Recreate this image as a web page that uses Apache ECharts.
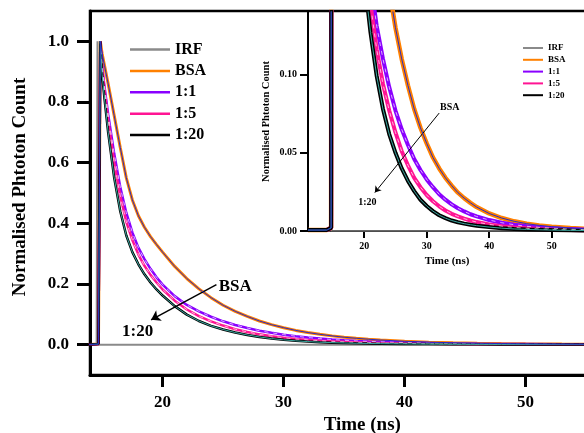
<!DOCTYPE html>
<html>
<head>
<meta charset="utf-8">
<script src="https://cdn.jsdelivr.net/npm/echarts@6/dist/echarts.min.js"></script>
<style>
html,body{margin:0;padding:0;background:#fff;}
#chart{width:584px;height:433px;}
</style>
</head>
<body>
<div id="chart"></div>
<script>
// ---- data ----
const timeNs = [11, 14, 14.7, 14.85, 15, 15.2, 15.5, 16, 16.5, 17, 17.5, 18, 18.5, 19, 19.5, 20,
  21, 22, 23, 24, 25, 26, 27, 28, 29, 30, 31, 32, 33, 34, 35, 36, 37, 38,
  40, 42, 44, 46, 48, 50, 53, 56, 59];
const bsa = [0.0006, 0.0006, 0.002, 1.0, 0.96, 0.92, 0.86, 0.755, 0.65, 0.55, 0.477, 0.425, 0.387, 0.356, 0.33, 0.305,
  0.258, 0.218, 0.184, 0.155, 0.13, 0.11, 0.093, 0.078, 0.066, 0.056, 0.047, 0.04, 0.034, 0.029, 0.0245, 0.021, 0.018, 0.0153,
  0.0112, 0.0083, 0.0062, 0.0047, 0.0036, 0.0028, 0.0019, 0.0013, 0.0009];
const ratio1to1 = [0.0006, 0.0006, 0.002, 1.0, 0.92, 0.85, 0.76, 0.63, 0.52, 0.435, 0.37, 0.32, 0.282, 0.25, 0.222, 0.198,
  0.16, 0.131, 0.11, 0.092, 0.077, 0.065, 0.055, 0.046, 0.039, 0.033, 0.028, 0.0235, 0.02, 0.017, 0.0145, 0.0125, 0.0107, 0.0093,
  0.007, 0.0053, 0.004, 0.003, 0.0023, 0.0018, 0.0012, 0.0008, 0.0006];
const ratio1to5 = [0.0006, 0.0006, 0.002, 1.0, 0.91, 0.84, 0.74, 0.6, 0.49, 0.405, 0.345, 0.297, 0.26, 0.23, 0.205, 0.182,
  0.145, 0.116, 0.094, 0.077, 0.063, 0.051, 0.042, 0.034, 0.028, 0.023, 0.019, 0.0158, 0.0131, 0.011, 0.0093, 0.0079, 0.0067, 0.0057,
  0.0042, 0.0031, 0.0023, 0.0017, 0.0013, 0.001, 0.0007, 0.0005, 0.0004];
const ratio1to20 = [0.0006, 0.0006, 0.002, 1.0, 0.89, 0.81, 0.7, 0.55, 0.44, 0.36, 0.305, 0.265, 0.232, 0.205, 0.182, 0.162,
  0.127, 0.099, 0.078, 0.062, 0.05, 0.04, 0.032, 0.0255, 0.02, 0.016, 0.0127, 0.0101, 0.0082, 0.0067, 0.0056, 0.0047, 0.004, 0.0034,
  0.0025, 0.0018, 0.0013, 0.001, 0.0008, 0.0006, 0.0004, 0.0003, 0.0002];
const irfTime = [11, 14.55, 14.62, 14.7, 59];
const irfValues = [0, 0, 1.0, 0, 0];

const seriesNames = ['IRF', 'BSA', '1:1', '1:5', '1:20'];
const mainXTicks = [20, 30, 40, 50];
const mainYTicks = [0, 0.2, 0.4, 0.6, 0.8, 1.0];
const insetXTicks = [20, 30, 40, 50];
const insetYTicks = [0, 0.05, 0.1];

// ---- build ----
const pairs = (xs, ys) => xs.map((x, i) => [x, ys[i]]);
const FONT = '"Liberation Serif","Times New Roman",serif';
const colors = { 'IRF': '#8a8a8a', 'BSA': '#ff8000', '1:1': '#8a00ff', '1:5': '#ff1493', '1:20': '#000000' };
const dataMap = { 'BSA': bsa, '1:1': ratio1to1, '1:5': ratio1to5, '1:20': ratio1to20 };

function buildSeries(idx, w) {
  const out = [];
  out.push({
    name: 'IRF', type: 'line', xAxisIndex: idx, yAxisIndex: idx,
    data: pairs(irfTime, irfValues), showSymbol: false, color: colors['IRF'],
    lineStyle: { width: idx === 0 ? 2 : 1.5, color: colors['IRF'] }, z: 2
  });
  ['BSA', '1:1', '1:5', '1:20'].forEach(n => {
    out.push({
      name: n, type: 'line', xAxisIndex: idx, yAxisIndex: idx,
      data: pairs(timeNs, dataMap[n]), showSymbol: false, color: colors[n],
      lineStyle: { width: n === 'BSA' ? w + 0.5 : w, color: colors[n] }, z: 3
    });
  });
  ['1:1', '1:5'].forEach(n => {
    out.push({
      name: n + ' fit', type: 'line', xAxisIndex: idx, yAxisIndex: idx,
      data: pairs(timeNs, dataMap[n]).slice(3), showSymbol: false, color: '#ffffff',
      lineStyle: { width: 0.8, color: 'rgba(255,255,255,0.85)', type: [4, 5] }, z: 4
    });
  });
  out.push({
    name: '1:20 fit', type: 'line', xAxisIndex: idx, yAxisIndex: idx,
    data: pairs(timeNs, ratio1to20), showSymbol: false, color: '#3aa7a0',
    lineStyle: { width: 1, color: '#3aa7a0' }, z: 4
  });
  out.push({
    name: 'BSA fit', type: 'line', xAxisIndex: idx, yAxisIndex: idx,
    data: pairs(timeNs, bsa), showSymbol: false, color: '#2b2bc0',
    lineStyle: { width: 1, color: '#2b2bc0' }, z: 5
  });
  return out;
}

const mainSeries = buildSeries(0, 2.5);
const insetSeries = buildSeries(1, 4);

// annotations (arrows + labels)
mainSeries[1].markLine = {
  silent: true, symbol: ['none', 'arrow'], symbolSize: 9,
  label: { show: false },
  lineStyle: { color: '#000', width: 1.5, type: 'solid' },
  data: [[{ coord: [24.45, 0.198] }, { coord: [19.05, 0.082] }]]
};
mainSeries[1].markPoint = {
  silent: true, symbol: 'rect', symbolSize: 1, itemStyle: { color: 'rgba(0,0,0,0)' },
  label: { show: true, position: 'inside', formatter: p => p.name, color: '#000',
    fontFamily: FONT, fontWeight: 'bold', fontSize: 17 },
  data: [{ name: 'BSA', coord: [26.0, 0.191] }, { name: '1:20', coord: [17.93, 0.044] }]
};
insetSeries[1].markLine = {
  silent: true, symbol: ['none', 'arrow'], symbolSize: 6,
  label: { show: false },
  lineStyle: { color: '#000', width: 1, type: 'solid' },
  data: [[{ coord: [32.0, 0.0754] }, { coord: [21.7, 0.0246] }]]
};
insetSeries[1].markPoint = {
  silent: true, symbol: 'rect', symbolSize: 1, itemStyle: { color: 'rgba(0,0,0,0)' },
  label: { show: true, position: 'inside', formatter: p => p.name, color: '#000',
    fontFamily: FONT, fontWeight: 'bold', fontSize: 10 },
  data: [{ name: 'BSA', coord: [33.7, 0.0792] }, { name: '1:20', coord: [20.5, 0.018] }]
};

const txt = (size) => ({ fontFamily: FONT, fontWeight: 'bold', fontSize: size, color: '#000' });

const option = {
  animation: false,
  backgroundColor: '#fff',
  grid: [
    { left: 90, top: 11, width: 544.5, height: 364, show: true, borderColor: '#000', borderWidth: 2.5,
      backgroundColor: 'transparent', containLabel: false, outerBoundsMode: 'none' },
    { left: 308, top: 12, width: 278, height: 219, show: false, containLabel: false, outerBoundsMode: 'none' }
  ],
  legend: [
    {
      data: seriesNames, orient: 'vertical', left: 125, top: 36,
      icon: 'rect', itemWidth: 40, itemHeight: 2.5, itemGap: 4.4,
      textStyle: Object.assign(txt(16), { lineHeight: 17 }),
      selectedMode: false
    },
    {
      data: seriesNames, orient: 'vertical', left: 518, top: 37.5,
      icon: 'rect', itemWidth: 20, itemHeight: 2, itemGap: 0.8,
      textStyle: Object.assign(txt(9), { lineHeight: 11 }),
      selectedMode: false
    }
  ],
  xAxis: [
    {
      type: 'value', gridIndex: 0, min: 14, max: 59,
      name: 'Time (ns)', nameLocation: 'middle', nameGap: 31, nameTextStyle: txt(19),
      axisLine: { onZero: false, lineStyle: { color: '#000', width: 3 } },
      axisTick: { show: true, length: 12, inside: false, lineStyle: { color: '#000', width: 3 }, customValues: mainXTicks },
      axisLabel: Object.assign(txt(17), { margin: 19, customValues: mainXTicks }),
      splitLine: { show: false }
    },
    {
      type: 'value', gridIndex: 1, min: 11, max: 55.5,
      name: 'Time (ns)', nameLocation: 'middle', nameGap: 25, nameTextStyle: txt(11),
      axisLine: { onZero: false, lineStyle: { color: '#000', width: 2 } },
      axisTick: { show: true, length: 7, lineStyle: { color: '#000', width: 2 }, customValues: insetXTicks },
      axisLabel: Object.assign(txt(10), { margin: 10, customValues: insetXTicks }),
      splitLine: { show: false }
    }
  ],
  yAxis: [
    {
      type: 'value', gridIndex: 0, min: -0.1, max: 1.1,
      name: 'Normalised Phtoton Count', nameLocation: 'middle', nameGap: 60,
      nameTextStyle: Object.assign(txt(19), { padding: [0, 0, 0, 12] }),
      axisLine: { onZero: false, lineStyle: { color: '#000', width: 3 } },
      axisTick: { show: true, length: 13, lineStyle: { color: '#000', width: 3 }, customValues: mainYTicks },
      axisLabel: Object.assign(txt(17), { margin: 21, customValues: mainYTicks, formatter: v => v.toFixed(1) }),
      splitLine: { show: false }
    },
    {
      type: 'value', gridIndex: 1, min: 0, max: 0.14,
      name: 'Normalised Phtoton Count', nameLocation: 'middle', nameGap: 36, nameTextStyle: txt(10.5),
      axisLine: { onZero: false, lineStyle: { color: '#000', width: 2 } },
      axisTick: { show: true, length: 8, lineStyle: { color: '#000', width: 2 }, customValues: insetYTicks },
      axisLabel: Object.assign(txt(10), { margin: 11, customValues: insetYTicks, formatter: v => v.toFixed(2) }),
      splitLine: { show: false }
    }
  ],
  series: mainSeries.concat(insetSeries)
};

const chart = echarts.init(document.getElementById('chart'), null, { renderer: 'canvas' });
chart.setOption(option);
</script>
</body>
</html>
